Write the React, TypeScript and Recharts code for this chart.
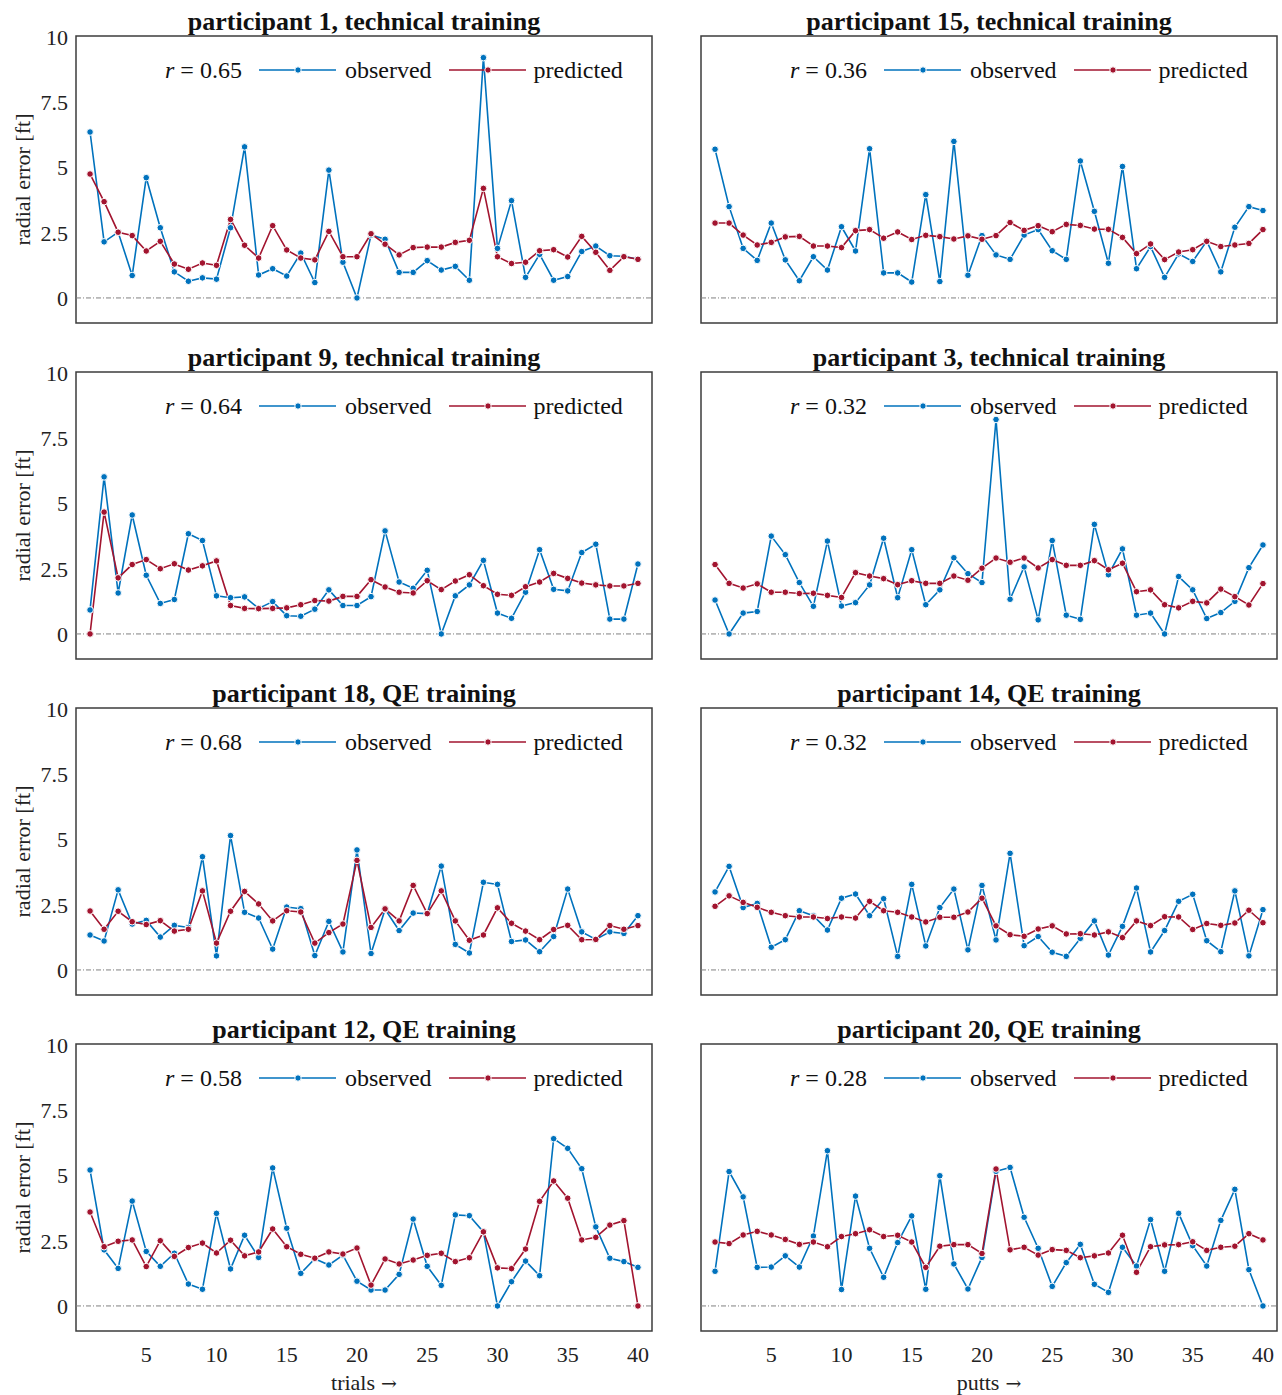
import { LineChart, Line, XAxis, YAxis, ReferenceLine, ReferenceArea } from "recharts";

const FONT = '"Liberation Serif", "Times New Roman", serif';
const BLUE = "#0072BD";
const RED = "#A2142F";
const FRAME = "#3c3c3c";

const TRIALS = [1, 2, 3, 4, 5, 6, 7, 8, 9, 10, 11, 12, 13, 14, 15, 16, 17, 18, 19, 20, 21, 22, 23, 24, 25, 26, 27, 28, 29, 30, 31, 32, 33, 34, 35, 36, 37, 38, 39, 40];
const X_TICKS = [5, 10, 15, 20, 25, 30, 35, 40];
const Y_TICKS = [0, 2.5, 5, 7.5, 10];

// participant 1, technical training
const P1_OBS = [6.36, 2.15, 2.52, 0.86, 4.61, 2.69, 1.0, 0.64, 0.77, 0.72, 2.69, 5.79, 0.88, 1.12, 0.84, 1.72, 0.59, 4.9, 1.37, 0, 2.41, 2.25, 0.98, 0.98, 1.43, 1.07, 1.21, 0.68, 9.21, 1.9, 3.73, 0.79, 1.67, 0.68, 0.82, 1.78, 1.99, 1.62, 1.6, 1.48];
const P1_PRED = [4.75, 3.69, 2.52, 2.39, 1.8, 2.17, 1.3, 1.1, 1.34, 1.25, 3.01, 2.02, 1.53, 2.77, 1.84, 1.53, 1.46, 2.55, 1.58, 1.58, 2.46, 2.06, 1.65, 1.93, 1.95, 1.95, 2.13, 2.21, 4.2, 1.58, 1.32, 1.37, 1.81, 1.85, 1.57, 2.36, 1.75, 1.06, 1.58, 1.48];

// participant 15, technical training
const P15_OBS = [5.7, 3.5, 1.9, 1.44, 2.87, 1.46, 0.66, 1.58, 1.07, 2.73, 1.8, 5.72, 0.96, 0.96, 0.61, 3.96, 0.63, 6.0, 0.87, 2.39, 1.65, 1.48, 2.41, 2.62, 1.81, 1.48, 5.25, 3.32, 1.33, 5.04, 1.12, 1.97, 0.79, 1.69, 1.4, 2.18, 1.0, 2.71, 3.5, 3.35];
const P15_PRED = [2.87, 2.87, 2.41, 2.03, 2.13, 2.34, 2.36, 1.99, 1.99, 1.93, 2.58, 2.62, 2.29, 2.53, 2.24, 2.4, 2.35, 2.26, 2.38, 2.25, 2.39, 2.89, 2.59, 2.77, 2.54, 2.82, 2.78, 2.64, 2.63, 2.32, 1.7, 2.07, 1.47, 1.76, 1.85, 2.17, 1.97, 2.03, 2.09, 2.62];

// participant 9, technical training
const P9_OBS = [0.92, 6.02, 1.57, 4.56, 2.25, 1.17, 1.32, 3.84, 3.58, 1.46, 1.39, 1.42, 0.98, 1.24, 0.7, 0.68, 0.95, 1.69, 1.09, 1.09, 1.43, 3.95, 1.99, 1.75, 2.44, 0, 1.46, 1.88, 2.82, 0.8, 0.6, 1.6, 3.23, 1.71, 1.65, 3.12, 3.44, 0.57, 0.57, 2.68];
const P9_PRED = [0, 4.67, 2.15, 2.66, 2.85, 2.5, 2.69, 2.45, 2.61, 2.8, 1.09, 0.98, 0.97, 0.98, 1.0, 1.12, 1.28, 1.26, 1.44, 1.44, 2.08, 1.8, 1.6, 1.57, 2.04, 1.7, 2.03, 2.27, 1.85, 1.52, 1.48, 1.81, 1.99, 2.32, 2.13, 1.95, 1.88, 1.84, 1.84, 1.94];

// participant 3, technical training
const P3_OBS = [1.3, 0, 0.8, 0.86, 3.75, 3.04, 1.97, 1.06, 3.56, 1.07, 1.2, 1.88, 3.67, 1.39, 3.23, 1.12, 1.69, 2.92, 2.31, 1.97, 8.22, 1.33, 2.57, 0.54, 3.58, 0.72, 0.56, 4.2, 2.27, 3.26, 0.72, 0.8, 0, 2.2, 1.69, 0.59, 0.82, 1.25, 2.54, 3.41];
const P3_PRED = [2.66, 1.94, 1.76, 1.92, 1.6, 1.6, 1.55, 1.56, 1.48, 1.4, 2.35, 2.22, 2.12, 1.89, 2.04, 1.94, 1.94, 2.22, 2.06, 2.52, 2.91, 2.75, 2.91, 2.53, 2.85, 2.63, 2.63, 2.81, 2.46, 2.71, 1.62, 1.69, 1.12, 1.0, 1.25, 1.19, 1.72, 1.43, 1.11, 1.93];

// participant 18, QE training
const P18_OBS = [1.34, 1.11, 3.07, 1.76, 1.9, 1.26, 1.71, 1.63, 4.34, 0.54, 5.15, 2.21, 1.99, 0.8, 2.41, 2.35, 0.55, 1.86, 0.69, 4.6, 0.63, 2.32, 1.51, 2.18, 2.16, 3.98, 0.98, 0.65, 3.36, 3.28, 1.09, 1.15, 0.7, 1.28, 3.1, 1.46, 1.17, 1.46, 1.4, 2.08];
const P18_PRED = [2.26, 1.56, 2.25, 1.85, 1.74, 1.89, 1.49, 1.56, 3.03, 1.03, 2.25, 3.01, 2.53, 1.88, 2.27, 2.22, 1.03, 1.43, 1.76, 4.2, 1.63, 2.34, 1.88, 3.24, 2.16, 3.03, 1.88, 1.14, 1.34, 2.38, 1.79, 1.49, 1.16, 1.55, 1.71, 1.16, 1.17, 1.7, 1.56, 1.7];

// participant 14, QE training
const P14_OBS = [2.99, 3.97, 2.39, 2.55, 0.87, 1.16, 2.27, 2.08, 1.53, 2.75, 2.91, 2.08, 2.73, 0.52, 3.28, 0.92, 2.39, 3.1, 0.77, 3.24, 1.15, 4.47, 0.93, 1.28, 0.68, 0.52, 1.21, 1.88, 0.57, 1.67, 3.14, 0.69, 1.51, 2.63, 2.9, 1.12, 0.7, 3.03, 0.54, 2.31];
const P14_PRED = [2.44, 2.84, 2.59, 2.4, 2.21, 2.08, 2.03, 2.03, 1.97, 2.03, 1.99, 2.63, 2.27, 2.21, 2.03, 1.84, 2.02, 2.02, 2.22, 2.75, 1.69, 1.35, 1.29, 1.57, 1.69, 1.38, 1.39, 1.34, 1.46, 1.24, 1.88, 1.7, 2.04, 2.03, 1.55, 1.78, 1.71, 1.8, 2.29, 1.81];

// participant 12, QE training
const P12_OBS = [5.21, 2.15, 1.44, 4.02, 2.09, 1.52, 2.02, 0.84, 0.64, 3.55, 1.42, 2.71, 1.86, 5.29, 2.98, 1.25, 1.81, 1.57, 1.95, 0.95, 0.61, 0.61, 1.21, 3.33, 1.52, 0.79, 3.49, 3.46, 2.84, 0, 0.93, 1.72, 1.16, 6.41, 6.04, 5.26, 3.03, 1.83, 1.7, 1.48];
const P12_PRED = [3.6, 2.27, 2.48, 2.53, 1.51, 2.5, 1.9, 2.24, 2.41, 2.03, 2.52, 1.92, 2.07, 2.95, 2.27, 1.98, 1.83, 2.07, 1.99, 2.22, 0.8, 1.8, 1.61, 1.76, 1.94, 2.02, 1.7, 1.85, 2.84, 1.46, 1.43, 2.18, 4.01, 4.79, 4.13, 2.53, 2.63, 3.1, 3.27, 0];

// participant 20, QE training
const P20_OBS = [1.33, 5.15, 4.18, 1.48, 1.49, 1.92, 1.49, 2.68, 5.95, 0.63, 4.21, 2.21, 1.1, 2.43, 3.45, 0.64, 4.99, 1.61, 0.65, 1.86, 5.16, 5.31, 3.4, 2.21, 0.75, 1.66, 2.36, 0.83, 0.52, 2.25, 1.53, 3.31, 1.33, 3.55, 2.31, 1.53, 3.28, 4.47, 1.39, 0];
const P20_PRED = [2.45, 2.39, 2.72, 2.86, 2.72, 2.55, 2.36, 2.45, 2.27, 2.66, 2.77, 2.92, 2.66, 2.71, 2.45, 1.48, 2.29, 2.35, 2.35, 2.01, 5.25, 2.15, 2.25, 1.95, 2.16, 2.13, 1.85, 1.92, 2.03, 2.71, 1.29, 2.27, 2.34, 2.35, 2.46, 2.13, 2.25, 2.29, 2.77, 2.53];

const PANELS = [
  { title: "participant 1, technical training", r: "0.65", obs: P1_OBS, pred: P1_PRED },
  { title: "participant 15, technical training", r: "0.36", obs: P15_OBS, pred: P15_PRED },
  { title: "participant 9, technical training", r: "0.64", obs: P9_OBS, pred: P9_PRED },
  { title: "participant 3, technical training", r: "0.32", obs: P3_OBS, pred: P3_PRED },
  { title: "participant 18, QE training", r: "0.68", obs: P18_OBS, pred: P18_PRED },
  { title: "participant 14, QE training", r: "0.32", obs: P14_OBS, pred: P14_PRED },
  { title: "participant 12, QE training", r: "0.58", obs: P12_OBS, pred: P12_PRED },
  { title: "participant 20, QE training", r: "0.28", obs: P20_OBS, pred: P20_PRED },
];
const X_LABELS = ["trials", "putts"];

const Y_MIN = -0.96;
const Y_MAX = 10.04;

const YLabel = ({ viewBox }: any) => {
  const cx = viewBox.x - 4;
  const cy = viewBox.y + viewBox.height / 2;
  return (
    <text x={cx} y={cy} transform={`rotate(-90 ${cx} ${cy})`} textAnchor="middle" dominantBaseline="central"
      fontFamily={FONT} fontSize={22} fill="#222">radial error [ft]</text>
  );
};

// axis title with a wider arrow glyph, like the reference's math arrow
const makeXLabel = (text: string) => ({ viewBox }: any) => (
  <text x={viewBox.x + viewBox.width / 2} y={viewBox.y + viewBox.height - 5} textAnchor="middle"
    fontFamily={FONT} fontSize={22} fill="#222">
    {text}
    <tspan fontFamily='"DejaVu Serif", serif' fontSize={19} dx={6}>{"\u2192"}</tspan>
  </text>
);

const LegendSample = ({ color }: { color: string }) => (
  <svg width={77} height={12} style={{ display: "block" }}>
    <line x1={0} y1={6} x2={77} y2={6} stroke={color} strokeWidth={1.6} />
    <circle cx={39} cy={6} r={3.2} fill={color} stroke="#fff" strokeWidth={1} />
  </svg>
);

const Panel = ({ p, col, row }: any) => {
  const left = col === 0;
  const bottom = row === 3;
  const chartLeft = left ? 0 : 640;
  const chartWidth = left ? 660 : 642;
  const plotLeft = left ? 76 : 61;
  const chartTop = row * 336;
  const height = bottom ? 387 : 336;
  const data = TRIALS.map((t, i) => ({ trial: t, observed: p.obs[i], predicted: p.pred[i] }));

  return (
    <div style={{ position: "absolute", left: chartLeft, top: chartTop, width: chartWidth, height }}>
      <LineChart width={chartWidth} height={height} data={data}
        margin={{ top: 36, right: left ? 8 : 5, left: left ? 26 : 61, bottom: bottom ? 0 : 13 }}>
        <XAxis dataKey="trial" type="number" domain={[0, 41]} allowDataOverflow ticks={X_TICKS} hide={!bottom}
          height={64} tickLine={false} axisLine={false} tickMargin={9}
          tick={{ fontSize: 22, fill: "#222", fontFamily: FONT }}
          label={makeXLabel(X_LABELS[col])} />
        <YAxis type="number" domain={[Y_MIN, Y_MAX]} allowDataOverflow ticks={Y_TICKS} hide={!left}
          width={50} tickLine={false} axisLine={false}
          tick={{ fontSize: 22, fill: "#222", fontFamily: FONT }}
          label={YLabel} />
        <ReferenceArea x1={0} x2={41} y1={Y_MIN} y2={Y_MAX} fill="none" stroke={FRAME} strokeWidth={1.5} ifOverflow="visible" />
        <ReferenceLine y={0} stroke="#808080" strokeWidth={1} strokeDasharray="5 2 1 2" />
        <Line type="linear" dataKey="observed" stroke={BLUE} strokeWidth={1.6}
          dot={{ r: 3.3, fill: BLUE, stroke: "#fff", strokeWidth: 1 }} activeDot={false} isAnimationActive={false} />
        <Line type="linear" dataKey="predicted" stroke={RED} strokeWidth={1.6}
          dot={{ r: 3.3, fill: RED, stroke: "#fff", strokeWidth: 1 }} activeDot={false} isAnimationActive={false} />
      </LineChart>

      <div style={{ position: "absolute", left: plotLeft, top: 7, width: 576, height: 30, lineHeight: "30px",
        textAlign: "center", fontFamily: FONT, fontWeight: "bold", fontSize: 26, color: "#111", whiteSpace: "nowrap" }}>
        {p.title}
      </div>

      <div style={{ position: "absolute", left: plotLeft + 89, top: 55, height: 30, display: "flex", alignItems: "center",
        fontFamily: FONT, fontSize: 24, color: "#111", whiteSpace: "nowrap" }}>
        <span><i>r</i> = {p.r}</span>
        <span style={{ marginLeft: 17 }}><LegendSample color={BLUE} /></span>
        <span style={{ marginLeft: 9 }}>observed</span>
        <span style={{ marginLeft: 17 }}><LegendSample color={RED} /></span>
        <span style={{ marginLeft: 8 }}>predicted</span>
      </div>
    </div>
  );
};

export default function App() {
  return (
    <div style={{ position: "absolute", left: 0, top: 0, width: 1282, height: 1395, background: "#fff", overflow: "hidden" }}>
      {PANELS.map((p, i) => (
        <Panel key={p.title} p={p} col={i % 2} row={Math.floor(i / 2)} />
      ))}
    </div>
  );
}
